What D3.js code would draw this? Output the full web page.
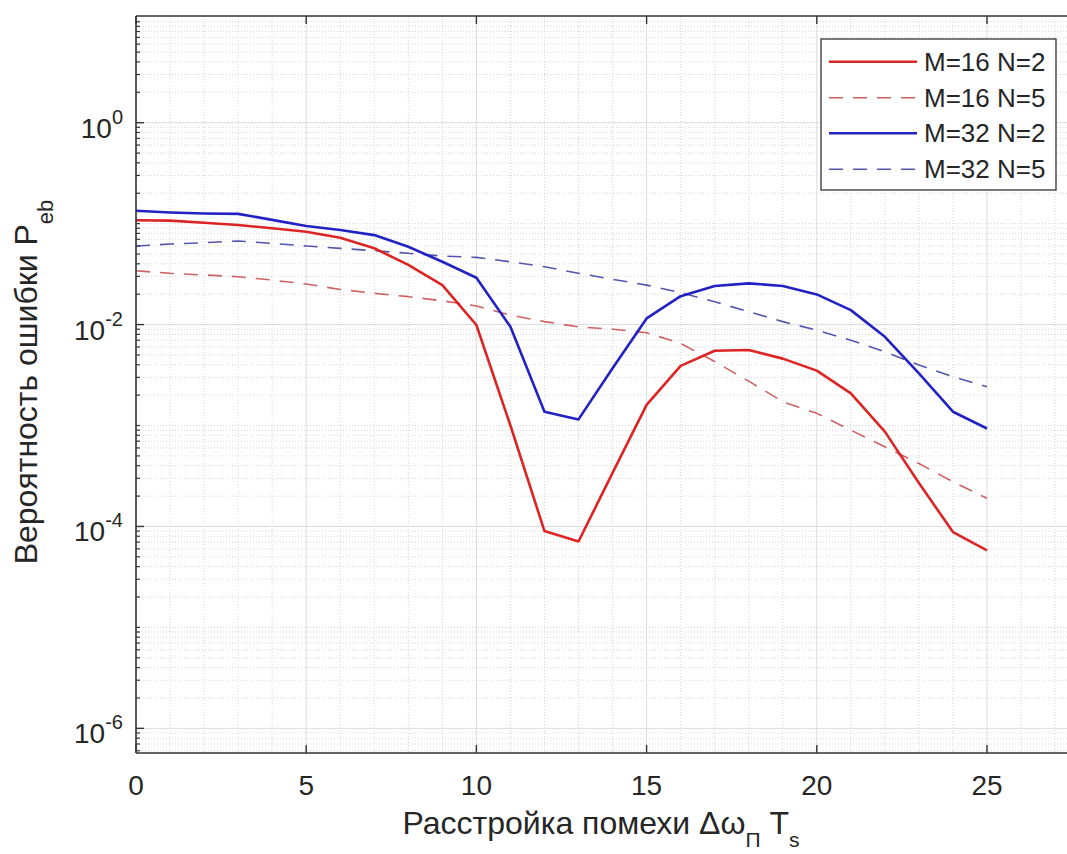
<!DOCTYPE html>
<html>
<head>
<meta charset="utf-8">
<script src="https://cdn.jsdelivr.net/npm/d3@7"></script>
<style>
  html, body { margin: 0; padding: 0; background: #fff; overflow: hidden; }
  svg { display: block; overflow: hidden; font-family: "Liberation Sans", Arial, Helvetica, sans-serif; }
</style>
</head>
<body>
<svg id="chart" width="1067" height="854"></svg>
<script>
// ---- data ----
const xValues = [0,1,2,3,4,5,6,7,8,9,10,11,12,13,14,15,16,17,18,19,20,21,22,23,24,25];
const m16n2 = [0.108,0.107,0.102,0.097,0.090,0.083,0.0725,0.057,0.039,0.0246,0.0099,0.0010,9.0e-5,7.1e-5,3.4e-4,1.6e-3,3.9e-3,5.5e-3,5.6e-3,4.6e-3,3.5e-3,2.08e-3,8.7e-4,2.7e-4,8.8e-5,5.8e-5];
const m16n5 = [0.0341,0.0322,0.0310,0.0298,0.0276,0.0252,0.0223,0.0204,0.0189,0.0172,0.0153,0.0124,0.0107,0.0095,0.0090,0.0083,0.0065,0.0043,0.00275,0.00172,0.00132,0.0009,0.000615,0.00042,0.000277,0.00019];
const m32n2 = [0.134,0.129,0.126,0.125,0.109,0.0946,0.0865,0.077,0.059,0.0419,0.0291,0.0095,0.00137,0.00115,0.0037,0.0115,0.0191,0.0241,0.0256,0.0241,0.0199,0.0139,0.00757,0.00328,0.00137,0.000935];
const m32n5 = [0.060,0.0628,0.0647,0.0673,0.0638,0.060,0.0569,0.0539,0.0508,0.0478,0.0463,0.0419,0.0374,0.0322,0.0281,0.0246,0.0207,0.0168,0.0134,0.0107,0.0088,0.0070,0.00537,0.00397,0.00304,0.00242];
const seriesNames = ["M=16 N=2","M=16 N=5","M=32 N=2","M=32 N=5"];
const xTicks = [0,5,10,15,20,25];
const yTickExps = [0,-2,-4,-6];
const xLabelMain = "Расстройка помехи Δω";
const xLabelSub1 = "П";
const xLabelT = "T";
const xLabelSub2 = "s";
const yLabelMain = "Вероятность ошибки P";
const yLabelSub = "eb";

// ---- layout ----
const svg = d3.select("#chart");
const L = 136, T = 16, B = 753;
const xMax = 28;
const x = d3.scaleLinear().domain([0, xMax]).range([L, L + xMax * 34.04]);
const R = x(xMax);
const y = d3.scaleLog().domain([5.7e-7, 11.4]).range([B, T]);
const textColor = "#262626";

// grid
const grid = svg.append("g");
const minorX = d3.range(1, xMax).filter(v => v % 5 !== 0);
grid.selectAll(".mvx").data(minorX).enter().append("line")
  .attr("x1", d => x(d)).attr("x2", d => x(d)).attr("y1", T).attr("y2", B)
  .attr("stroke", "#d6d6d6").attr("stroke-width", 1).attr("stroke-dasharray", "1,2");
const minorY = [];
for (let e = -7; e <= 1; e++) {
  for (let k = 1; k <= 9; k++) {
    const v = k * Math.pow(10, e);
    if (k === 1 && e % 2 === 0) continue;
    if (v >= 5.7e-7 && v <= 11.4) minorY.push(v);
  }
}
grid.selectAll(".mhy").data(minorY).enter().append("line")
  .attr("x1", L).attr("x2", R).attr("y1", d => y(d)).attr("y2", d => y(d))
  .attr("stroke", "#d6d6d6").attr("stroke-width", 1).attr("stroke-dasharray", "1,2");
grid.selectAll(".gx").data(xTicks).enter().append("line")
  .attr("x1", d => x(d)).attr("x2", d => x(d)).attr("y1", T).attr("y2", B)
  .attr("stroke", "#dcdcdc").attr("stroke-width", 1);
grid.selectAll(".gy").data(yTickExps).enter().append("line")
  .attr("x1", L).attr("x2", R).attr("y1", d => y(Math.pow(10, d))).attr("y2", d => y(Math.pow(10, d)))
  .attr("stroke", "#dcdcdc").attr("stroke-width", 1);

// series
const series = [
  { name: seriesNames[0], values: m16n2, color: "#dd2424", width: 2.6, dash: null },
  { name: seriesNames[1], values: m16n5, color: "#cc6262", width: 1.6, dash: "14,10" },
  { name: seriesNames[2], values: m32n2, color: "#2222c4", width: 2.6, dash: null },
  { name: seriesNames[3], values: m32n5, color: "#5555b0", width: 1.6, dash: "14,10" }
];
const line = d3.line().x(d => x(d[0])).y(d => y(d[1]));
const drawOrder = [1, 3, 0, 2];
drawOrder.forEach(i => {
  const s = series[i];
  svg.append("path")
    .datum(xValues.map((xv, j) => [xv, s.values[j]]))
    .attr("fill", "none").attr("stroke", s.color).attr("stroke-width", s.width)
    .attr("stroke-linejoin", "round")
    .attr("stroke-dasharray", s.dash).attr("d", line);
});

// axes frame (left, top, bottom; right edge lies beyond the visible area)
const axisG = svg.append("g").attr("stroke", "#333").attr("fill", "none");
axisG.append("line").attr("x1", L).attr("x2", L).attr("y1", T).attr("y2", B).attr("stroke-width", 1.6);
axisG.append("line").attr("x1", L).attr("x2", R).attr("y1", T).attr("y2", T).attr("stroke-width", 1.6);
axisG.append("line").attr("x1", L).attr("x2", R).attr("y1", B).attr("y2", B).attr("stroke-width", 1.6);
xTicks.forEach(v => {
  axisG.append("line").attr("x1", x(v)).attr("x2", x(v)).attr("y1", B).attr("y2", B - 8).attr("stroke-width", 1.4);
  axisG.append("line").attr("x1", x(v)).attr("x2", x(v)).attr("y1", T).attr("y2", T + 8).attr("stroke-width", 1.4);
});
yTickExps.forEach(e => {
  axisG.append("line").attr("x1", L).attr("x2", L + 8).attr("y1", y(Math.pow(10, e))).attr("y2", y(Math.pow(10, e))).attr("stroke-width", 1.4);
});
minorY.forEach(v => {
  axisG.append("line").attr("x1", L).attr("x2", L + 4).attr("y1", y(v)).attr("y2", y(v)).attr("stroke-width", 1.2);
});

// x tick labels
svg.selectAll(".xtl").data(xTicks).enter().append("text")
  .attr("x", d => x(d)).attr("y", 795).attr("text-anchor", "middle")
  .attr("font-size", 28).attr("fill", textColor).text(d => d);

// y tick labels
yTickExps.forEach(e => {
  const yy = y(Math.pow(10, e));
  const t = svg.append("text").attr("x", 123).attr("y", yy + 15).attr("text-anchor", "end")
    .attr("font-size", 28).attr("fill", textColor);
  t.append("tspan").text("10");
  t.append("tspan").attr("dy", -14).attr("font-size", 20).text(String(e));
});

// x label
const xl = svg.append("text").attr("x", 601).attr("y", 834).attr("text-anchor", "middle")
  .attr("font-size", 32).attr("fill", textColor);
xl.append("tspan").text(xLabelMain);
xl.append("tspan").attr("dy", 13).attr("font-size", 21).text(xLabelSub1);
xl.append("tspan").attr("dy", -13).text(" " + xLabelT);
xl.append("tspan").attr("dy", 13).attr("font-size", 21).text(xLabelSub2);

// y label
const yl = svg.append("text").attr("transform", "translate(37,382) rotate(-90)")
  .attr("text-anchor", "middle").attr("font-size", 32).attr("fill", textColor);
yl.append("tspan").text(yLabelMain);
yl.append("tspan").attr("dy", 16).attr("font-size", 22).text(yLabelSub);

// legend
const lg = svg.append("g");
lg.append("rect").attr("x", 821).attr("y", 39).attr("width", 235).attr("height", 151)
  .attr("fill", "#fff").attr("stroke", "#333").attr("stroke-width", 1.3);
const rowY = [61.7, 97.7, 133.3, 169.3];
series.forEach((s, i) => {
  lg.append("line").attr("x1", 829).attr("x2", 917).attr("y1", rowY[i]).attr("y2", rowY[i])
    .attr("stroke", s.color).attr("stroke-width", s.width).attr("stroke-dasharray", s.dash);
  lg.append("text").attr("x", 924).attr("y", rowY[i]).attr("dy", "0.35em")
    .attr("font-size", 26).attr("fill", textColor).text(s.name);
});
</script>
</body>
</html>
